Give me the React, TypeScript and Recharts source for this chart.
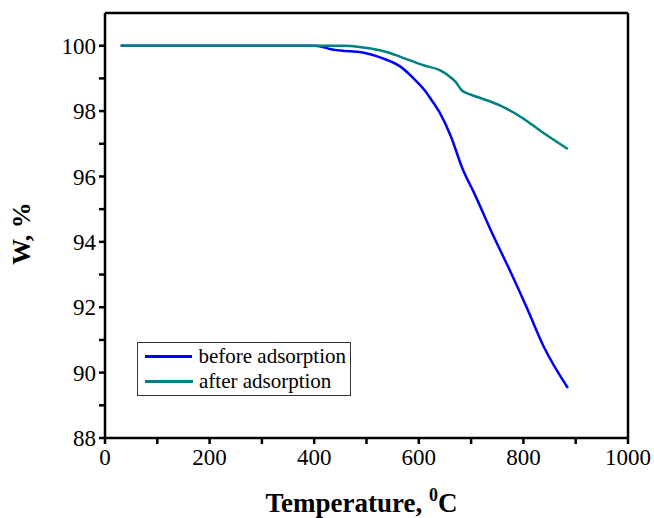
import {
  LineChart,
  Line,
  XAxis,
  YAxis,
  Label,
} from "recharts";

const temps = [30, 400, 415, 430, 450, 490, 530, 565, 590, 613, 623, 640, 661, 684, 705, 743, 776, 808, 839, 885];
const before = [100, 100, 99.97, 99.9, 99.85, 99.8, 99.62, 99.36, 99.0, 98.6, 98.37, 97.95, 97.24, 96.22, 95.52, 94.17, 93.06, 91.93, 90.79, 89.53];

const tempsAfter = [30, 460, 490, 513, 540, 565, 609, 640, 657, 670, 683, 700, 712, 757, 801, 833, 885];
const after = [100, 100, 99.95, 99.9, 99.8, 99.66, 99.4, 99.25, 99.08, 98.9, 98.62, 98.5, 98.43, 98.16, 97.76, 97.39, 96.84];

const xTicks = [0, 100, 200, 300, 400, 500, 600, 700, 800, 900, 1000];
const yTicks = [88, 89, 90, 91, 92, 93, 94, 95, 96, 97, 98, 99, 100];

const seriesInfo = [
  { key: "before", name: "before adsorption", color: "#0000ff" },
  { key: "after", name: "after adsorption", color: "#008080" },
];

const beforeData = temps.map((t, i) => ({ t, before: before[i] }));
const afterData = tempsAfter.map((t, i) => ({ t, after: after[i] }));

const FONT = "'Liberation Serif', 'Times New Roman', serif";
const axisStroke = "#000";

function LegendBox() {
  return (
    <div
      style={{
        position: "absolute",
        left: 137,
        top: 342,
        width: 214,
        boxSizing: "border-box",
        border: "1px solid #333",
        background: "#fff",
        padding: "1px 4px 1px 7px",
        fontFamily: FONT,
        fontSize: 21,
        lineHeight: "25px",
        whiteSpace: "nowrap",
      }}
    >
      {seriesInfo.map((s) => (
        <div key={s.key} style={{ display: "flex", alignItems: "center" }}>
          <span
            style={{
              display: "inline-block",
              width: 48,
              height: 3,
              background: s.color,
              marginRight: 6,
            }}
          />
          <span>{s.name}</span>
        </div>
      ))}
    </div>
  );
}

export default function App() {
  return (
    <div style={{ position: "absolute", left: 0, top: 0, width: 654, height: 518, background: "#fff" }}>
      <LineChart
        width={654}
        height={518}
        margin={{ top: 13, right: 26, bottom: 0, left: 45 }}
        style={{ fontFamily: FONT }}
      >
        <XAxis
          xAxisId="bottom"
          dataKey="t"
          type="number"
          domain={[0, 1000]}
          ticks={xTicks}
          allowDuplicatedCategory={false}
          height={80}
          stroke={axisStroke}
          strokeWidth={2.5}
          tickSize={6}
          tickMargin={5}
          tick={{ fill: "#000", fontSize: 23, fontFamily: FONT }}
          tickFormatter={(v) => (v % 200 === 0 ? String(v) : "")}
        >
          <Label
            content={({ viewBox }: any) => (
              <text
                x={viewBox.x + viewBox.width / 2 - 5}
                y={viewBox.y + 74}
                textAnchor="middle"
                fontFamily={FONT}
                fontWeight="bold"
                fontSize={27}
                fill="#000"
              >
                Temperature,{" "}
                <tspan fontSize={18} dy={-11}>
                  0
                </tspan>
                <tspan dy={11}>C</tspan>
              </text>
            )}
          />
        </XAxis>
        <XAxis
          xAxisId="top"
          orientation="top"
          dataKey="t"
          type="number"
          domain={[0, 1000]}
          ticks={xTicks}
          height={1}
          mirror
          stroke={axisStroke}
          strokeWidth={2.5}
          tickSize={6}
          tick={false}
        />
        <YAxis
          yAxisId="left"
          type="number"
          domain={[88, 101]}
          ticks={yTicks}
          width={60}
          stroke={axisStroke}
          strokeWidth={2.5}
          tickSize={6}
          tickMargin={3}
          tick={{ fill: "#000", fontSize: 23, fontFamily: FONT }}
          tickFormatter={(v) => (v % 2 === 0 ? String(v) : "")}
        >
          <Label
            content={({ viewBox }: any) => (
              <text
                x={30}
                y={viewBox.y + viewBox.height / 2 + 8}
                textAnchor="middle"
                fontFamily={FONT}
                fontWeight="bold"
                fontSize={26}
                fill="#000"
                transform={`rotate(-90, 30, ${viewBox.y + viewBox.height / 2 + 8})`}
              >
                W, %
              </text>
            )}
          />
        </YAxis>
        <YAxis
          yAxisId="right"
          orientation="right"
          type="number"
          domain={[88, 101]}
          ticks={yTicks}
          width={1}
          mirror
          stroke={axisStroke}
          strokeWidth={2.5}
          tickSize={6}
          tick={false}
        />
        <Line
          xAxisId="bottom"
          yAxisId="left"
          data={beforeData}
          dataKey="before"
          name="before adsorption"
          type="monotone"
          stroke="#0000ff"
          strokeWidth={2.5}
          dot={false}
          isAnimationActive={false}
        />
        <Line
          xAxisId="bottom"
          yAxisId="left"
          data={afterData}
          dataKey="after"
          name="after adsorption"
          type="monotone"
          stroke="#008080"
          strokeWidth={2.5}
          dot={false}
          isAnimationActive={false}
        />
      </LineChart>
      <LegendBox />
    </div>
  );
}
